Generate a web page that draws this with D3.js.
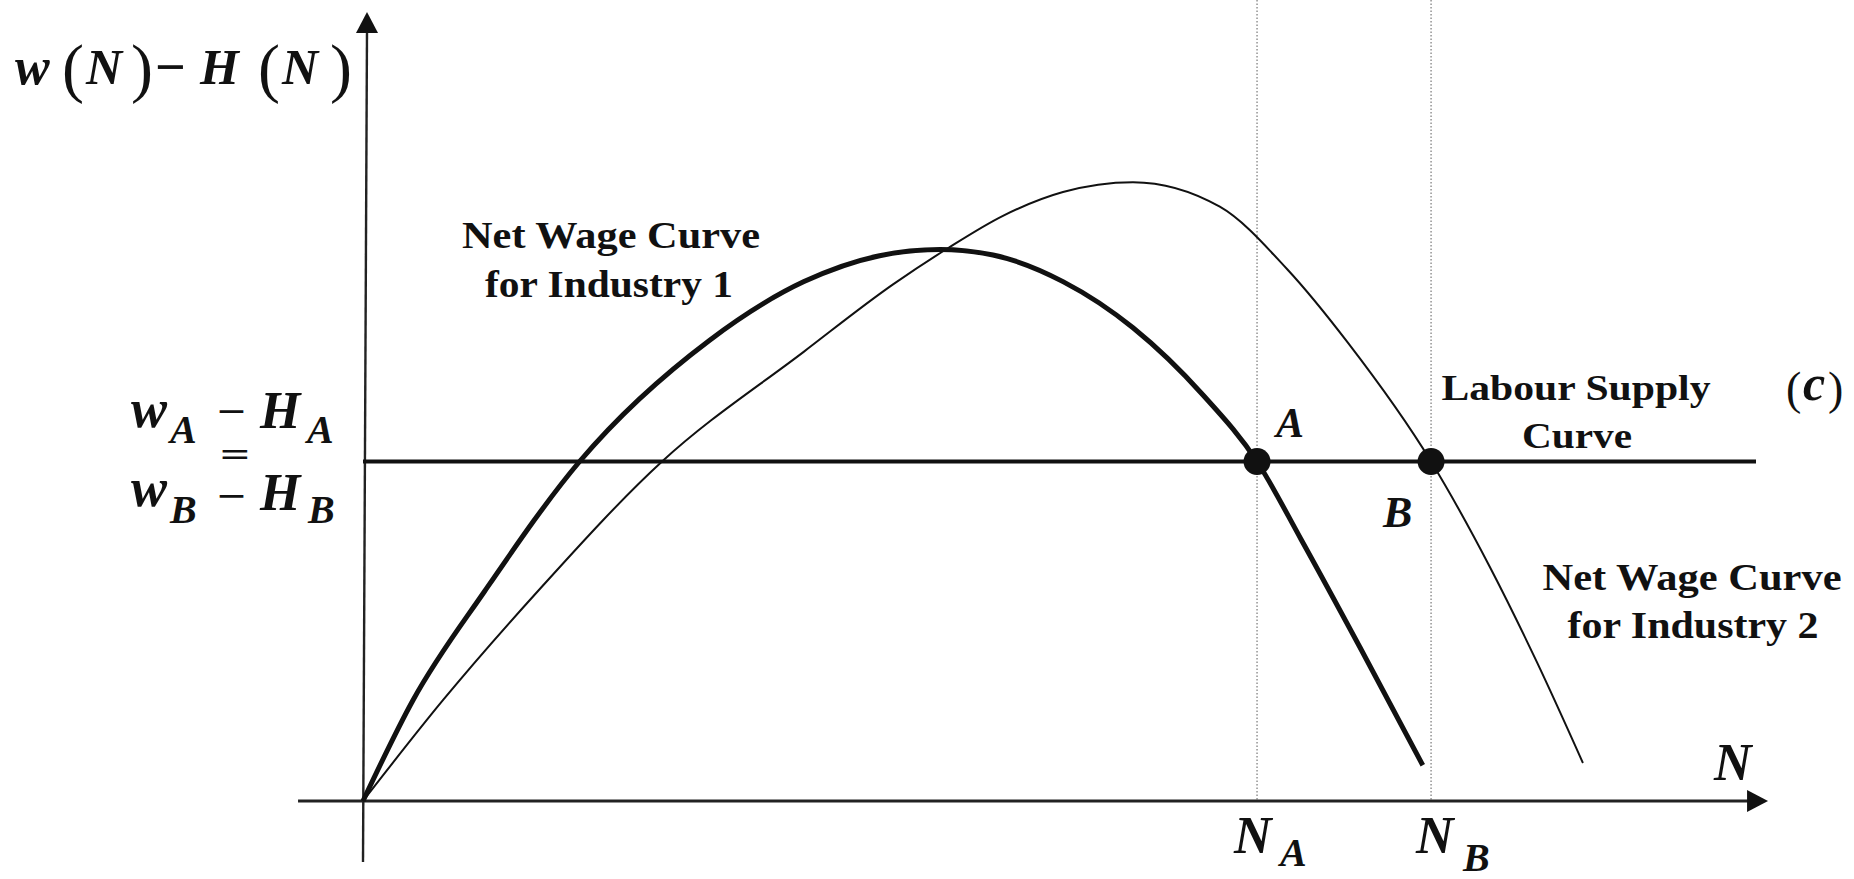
<!DOCTYPE html>
<html>
<head>
<meta charset="utf-8">
<script src="https://cdn.jsdelivr.net/npm/d3@7"></script>
<style>
  body { margin: 0; background: #fff; }
  text { font-family: "Liberation Serif", "Times New Roman", serif; fill: #111; }
</style>
</head>
<body>
<svg id="chart" width="1854" height="879"></svg>
<script>
// Net wage curves, w(N) - H(N), sampled along employment N
const industry1N    = [0, 0.357, 0.87, 1.547, 2.474, 3.15, 3.69, 4.121, 4.5, 5.0, 5.5, 6.0, 6.386, 6.7, 7.12, 7.57];
const industry1Wage = [0, 1.44, 3.0, 4.85, 6.58, 7.42, 7.79, 7.88, 7.8, 7.42, 6.76, 5.8, 4.85, 3.74, 2.2, 0.51];
const industry2N    = [0, 0.571, 1.25, 2.136, 3.15, 3.786, 4.18, 4.571, 5.0, 5.5, 6.12, 6.6, 7.036, 7.629, 8.05, 8.386, 8.714];
const industry2Wage = [0, 1.44, 3.0, 4.85, 6.42, 7.38, 7.9, 8.36, 8.70, 8.84, 8.49, 7.6, 6.544, 4.85, 3.34, 1.98, 0.543];

// Horizontal labour supply curve and the two equilibria on it
const labourSupplyWage = 4.85;
const equilibriumLabels = ["A", "B"];
const equilibriumN      = [6.386, 7.629];

// Axis extents in data units
const xAxisRange = [-0.464, 10.036];
const yAxisRange = [-0.87, 11.27];

const svg = d3.select("#chart");
const x = d3.scaleLinear().domain([0, 10]).range([363, 1763]);
const y = d3.scaleLinear().domain([0, 10]).range([801, 101]);

// --- guide lines at N_A and N_B
svg.selectAll("line.guide")
  .data(equilibriumN)
  .join("line")
  .attr("class", "guide")
  .attr("x1", d => x(d)).attr("x2", d => x(d))
  .attr("y1", 0).attr("y2", y(0))
  .attr("stroke", "#777")
  .attr("stroke-width", 1.2)
  .attr("stroke-dasharray", "1.5,2");

// --- axes
const arrowLen = 21, arrowHalf = 11;
svg.append("line")
  .attr("x1", x(xAxisRange[0])).attr("x2", x(xAxisRange[1]) - arrowLen + 2)
  .attr("y1", y(0)).attr("y2", y(0))
  .attr("stroke", "#222").attr("stroke-width", 3);
svg.append("path")
  .attr("d", `M${x(xAxisRange[1])},${y(0)} L${x(xAxisRange[1]) - arrowLen},${y(0) - arrowHalf} L${x(xAxisRange[1]) - arrowLen},${y(0) + arrowHalf} Z`)
  .attr("fill", "#111");

// vertical axis (leans a touch to the right as it rises)
const yTopX = x(0) + 4;
svg.append("line")
  .attr("x1", x(0)).attr("x2", yTopX)
  .attr("y1", y(yAxisRange[0])).attr("y2", y(yAxisRange[1]) + arrowLen - 2)
  .attr("stroke", "#222").attr("stroke-width", 2.4);
svg.append("path")
  .attr("d", `M${yTopX},${y(yAxisRange[1])} L${yTopX - arrowHalf},${y(yAxisRange[1]) + arrowLen} L${yTopX + arrowHalf},${y(yAxisRange[1]) + arrowLen} Z`)
  .attr("fill", "#111");

// --- labour supply line
svg.append("line")
  .attr("x1", x(0)).attr("x2", x(9.95))
  .attr("y1", y(labourSupplyWage)).attr("y2", y(labourSupplyWage))
  .attr("stroke", "#111").attr("stroke-width", 4.2);

// --- net wage curves
const line = d3.line()
  .x(d => x(d[0])).y(d => y(d[1]))
  .curve(d3.curveMonotoneX);

svg.append("path")
  .datum(d3.zip(industry2N, industry2Wage))
  .attr("d", line)
  .attr("fill", "none").attr("stroke", "#111").attr("stroke-width", 2);

svg.append("path")
  .datum(d3.zip(industry1N, industry1Wage))
  .attr("d", line)
  .attr("fill", "none").attr("stroke", "#111").attr("stroke-width", 5);

// --- equilibrium points
svg.selectAll("circle.eq")
  .data(equilibriumN)
  .join("circle")
  .attr("class", "eq")
  .attr("cx", d => x(d)).attr("cy", y(labourSupplyWage))
  .attr("r", 13.5)
  .attr("fill", "#111");

// --- formula text: one <text> per formula, pieces placed as tspans
function formula(pieces) {
  const t = svg.append("text");
  pieces.forEach(p => {
    t.append("tspan")
      .attr("x", p.x).attr("y", p.y)
      .attr("font-size", p.size)
      .attr("font-style", p.italic ? "italic" : "normal")
      .attr("font-weight", p.bold === false ? "normal" : "bold")
      .text(p.t);
  });
  return t;
}
// a single sign stretched to a given width
function sign(t, px, py, size, len) {
  svg.append("text")
    .attr("x", px).attr("y", py)
    .attr("font-size", size)
    .attr("font-weight", "bold")
    .attr("textLength", len)
    .attr("lengthAdjust", "spacingAndGlyphs")
    .text(t);
}

// vertical axis title: w (N) − H (N)
formula([
  { t: "w",      x: 15,  y: 84, size: 52, italic: true },
  { t: "(",      x: 62,  y: 90, size: 66, bold: false },
  { t: "N",      x: 86,  y: 84, size: 50, italic: true },
  { t: ")",      x: 131, y: 90, size: 66, bold: false },
  { t: "\u2212", x: 155, y: 85, size: 54 },
  { t: "H",      x: 200, y: 84, size: 50, italic: true },
  { t: "(",      x: 258, y: 90, size: 66, bold: false },
  { t: "N",      x: 282, y: 84, size: 50, italic: true },
  { t: ")",      x: 330, y: 90, size: 66, bold: false }
]);

// equal net wage label beside the vertical axis
formula([
  { t: "w",      x: 131, y: 427, size: 54, italic: true },
  { t: "A",      x: 170, y: 443, size: 40, italic: true },
  { t: "H",      x: 260, y: 428, size: 52, italic: true },
  { t: "A",      x: 307, y: 443, size: 40, italic: true }
]);
sign("\u2212", 217, 425, 40, 29);
sign("=", 220, 466, 34, 30);
formula([
  { t: "w",      x: 131, y: 506, size: 54, italic: true },
  { t: "B",      x: 170, y: 523, size: 40, italic: true },
  { t: "H",      x: 260, y: 510, size: 52, italic: true },
  { t: "B",      x: 308, y: 523, size: 40, italic: true }
]);
sign("\u2212", 217, 509, 38, 29);

// equilibrium point labels
formula([{ t: equilibriumLabels[0], x: 1276, y: 437, size: 42, italic: true }]);
formula([{ t: equilibriumLabels[1], x: 1383, y: 527, size: 44, italic: true }]);

// horizontal axis labels
formula([{ t: "N", x: 1714, y: 780, size: 52, italic: true }]);
formula([
  { t: "N", x: 1234, y: 853, size: 52, italic: true },
  { t: "A", x: 1280, y: 866, size: 40, italic: true }
]);
formula([
  { t: "N", x: 1416, y: 853, size: 52, italic: true },
  { t: "B", x: 1463, y: 871, size: 40, italic: true }
]);

// curve labels
function label(t, cx, by, size, len) {
  svg.append("text")
    .attr("x", cx).attr("y", by)
    .attr("text-anchor", "middle")
    .attr("font-size", size)
    .attr("font-weight", "bold")
    .attr("textLength", len)
    .attr("lengthAdjust", "spacingAndGlyphs")
    .text(t);
}
label("Net Wage Curve", 611, 248, 38, 298);
label("for Industry 1", 609, 297, 38, 248);
label("Labour Supply", 1576, 400, 36, 269);
label("Curve", 1577, 448, 36, 110);
label("Net Wage Curve", 1692, 590, 38, 299);
label("for Industry 2", 1693, 638, 38, 251);

// panel tag
formula([
  { t: "(", x: 1786, y: 404, size: 46, bold: false },
  { t: "c", x: 1803, y: 400, size: 50, italic: true },
  { t: ")", x: 1828, y: 404, size: 46, bold: false }
]);
</script>
</body>
</html>
